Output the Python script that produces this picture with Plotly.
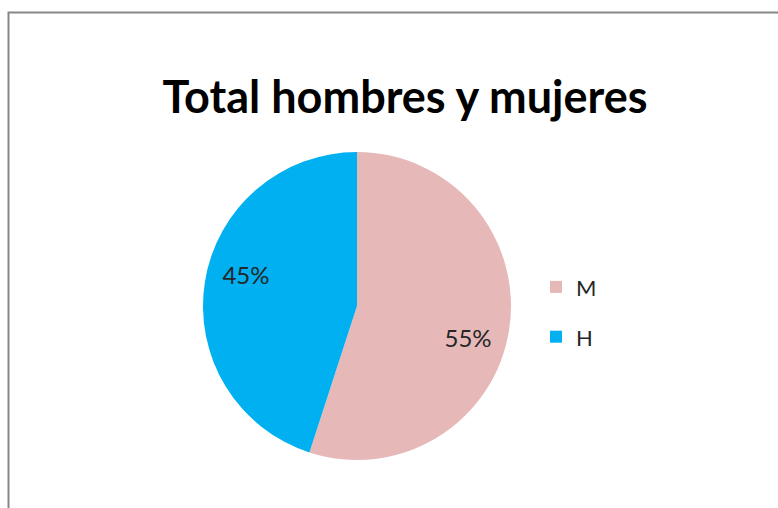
import plotly.graph_objects as go

labels = ["M", "H"]
values = [55, 45]
colors = ["#E6B9B8", "#00B0F0"]
title_text = "Total hombres y mujeres"

legend_labels = [f"<span style='font-size:22px;baseline-shift:5px'>{l}</span>" for l in labels]
pie_domain = dict(x=[203/778, 511/778], y=[(202-154)/508, (202+154)/508])

fig = go.Figure()
# filled pie (legend source)
fig.add_trace(go.Pie(
    labels=legend_labels,
    values=values,
    marker=dict(colors=colors, line=dict(width=0)),
    sort=False,
    direction="clockwise",
    rotation=0,
    textinfo="none",
    hoverinfo="skip",
    domain=pie_domain,
))
# transparent ring carrying the percentage labels further out
fig.add_trace(go.Pie(
    labels=legend_labels,
    values=values,
    marker=dict(colors=["rgba(0,0,0,0)"] * len(values), line=dict(width=0)),
    hole=0.5,
    sort=False,
    direction="clockwise",
    rotation=7,
    textinfo="percent",
    textposition="inside",
    insidetextorientation="horizontal",
    textfont=dict(family="Lato", size=24, color="#262626"),
    hoverinfo="skip",
    showlegend=False,
    domain=pie_domain,
))

fig.update_layout(
    width=778, height=508,
    margin=dict(l=0, r=0, t=0, b=0),
    paper_bgcolor="white",
    title=dict(text="<b>" + title_text + "</b>", x=405/778, xanchor="center",
               y=1 - 97/508, yanchor="middle",
               font=dict(family="Lato", size=45, color="#000000")),
    legend=dict(x=536/778, xanchor="left", y=1 - 312/508, yanchor="middle",
                font=dict(family="Lato", size=36, color="#262626"),
                bgcolor="rgba(0,0,0,0)"),
    shapes=[dict(type="rect", xref="paper", yref="paper",
                 x0=8.5/778, x1=1.2, y0=-0.2, y1=1 - 12.5/508,
                 line=dict(color="#878787", width=2), fillcolor="rgba(0,0,0,0)",
                 layer="below")],
)

fig.write_html("out.html", config={"displayModeBar": False},
               post_script="document.body.style.margin='0';")
